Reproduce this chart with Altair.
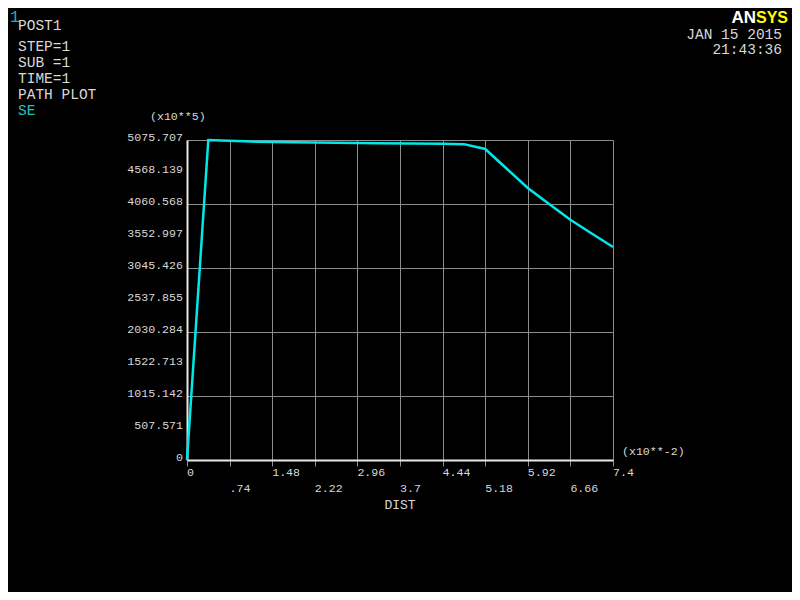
import altair as alt
import pandas as pd

# ---- data ----
dist = [0.0, 0.37, 1.11, 2.22, 3.33, 4.44, 4.81, 5.18, 5.55, 5.92, 6.29, 6.66, 7.03, 7.4]
se = [0.0, 5075.707, 5050.0, 5035.0, 5025.0, 5015.0, 5010.0, 4933.0, 4624.0, 4314.0, 4060.0, 3810.0, 3593.0, 3378.0]

x_tick_labels = ["0", ".74", "1.48", "2.22", "2.96", "3.7", "4.44", "5.18", "5.92", "6.66", "7.4"]
y_tick_labels = ["0", "507.571", "1015.142", "1522.713", "2030.284", "2537.855",
                 "3045.426", "3552.997", "4060.568", "4568.139", "5075.707"]

x_ticks = [i * 0.74 for i in range(len(x_tick_labels))]
y_ticks = [i * 507.5707 for i in range(len(y_tick_labels))]

W, H = 426, 320
MONO = "Liberation Mono"
LABEL = "#d8d8d8"

xs = alt.Scale(domain=[0, 7.4], nice=False, zero=False)
ys = alt.Scale(domain=[0, 5075.707], nice=False, zero=False)

line_df = pd.DataFrame({"dist": dist, "se": se})

base_x_axis = alt.Axis(values=x_ticks, labels=False, title=None, grid=True,
                       gridColor="#8c8c8c", gridWidth=1, ticks=True, tickSize=6,
                       tickColor="#8c8c8c", domain=True, domainColor="#e8e8e8",
                       domainWidth=2)
base_y_axis = alt.Axis(values=y_ticks, labels=False, title=None, grid=True,
                       gridColor="#8c8c8c", gridWidth=1, ticks=False,
                       domain=True, domainColor="#e8e8e8", domainWidth=2)

line = alt.Chart(line_df).mark_line(color="#00e8e8", strokeWidth=2.5).encode(
    x=alt.X("dist:Q", scale=xs, axis=base_x_axis),
    y=alt.Y("se:Q", scale=ys, axis=base_y_axis),
)

ylab_df = pd.DataFrame({"v": y_ticks, "t": y_tick_labels})
ylabels = alt.Chart(ylab_df).mark_text(
    align="right", baseline="alphabetic", dy=1, font=MONO, fontSize=11.6, color=LABEL
).encode(x=alt.value(-4), y=alt.Y("v:Q", scale=ys), text="t:N")

xlab_df = pd.DataFrame({"v": x_ticks, "t": x_tick_labels,
                        "row": [i % 2 for i in range(len(x_ticks))]})
xlab1 = alt.Chart(xlab_df).transform_filter("datum.row == 0").mark_text(
    align="left", baseline="middle", font=MONO, fontSize=11.6, color=LABEL
).encode(x=alt.X("v:Q", scale=xs), y=alt.value(333), text="t:N")
xlab2 = alt.Chart(xlab_df).transform_filter("datum.row == 1").mark_text(
    align="left", baseline="middle", font=MONO, fontSize=11.6, color=LABEL
).encode(x=alt.X("v:Q", scale=xs), y=alt.value(349), text="t:N")

dummy = pd.DataFrame({"a": [0]})


def label(text, px, py, color=LABEL, size=11.6, align="left", font=MONO, weight="normal",
          baseline="middle"):
    # px, py are page pixel positions; plot origin is at (187, 140)
    return alt.Chart(dummy).mark_text(
        text=text, align=align, baseline=baseline, font=font, fontSize=size,
        color=color, fontWeight=weight
    ).encode(x=alt.value(px - 187), y=alt.value(py - 140))


HDR = 14.5
texts = [
    label("1", 10, 17, color="#18b8b8", size=16),
    label("POST1", 18, 26, size=HDR),
    label("STEP=1", 18, 47, size=HDR),
    label("SUB =1", 18, 63, size=HDR),
    label("TIME=1", 18, 79, size=HDR),
    label("PATH PLOT", 18, 95, size=HDR),
    label("SE", 18, 111, color="#20c0c0", size=HDR),
    label("JAN 15 2015", 782, 35, size=HDR, align="right"),
    label("21:43:36", 782, 50, size=HDR, align="right"),
    label("AN", 756, 23, color="#ffffff", size=17, align="right",
          font="Liberation Sans", weight="bold", baseline="alphabetic"),
    label("SYS", 756, 23, color="#ffff00", size=16, align="left",
          font="Liberation Sans", weight="bold", baseline="alphabetic"),
    label("(x10**5)", 150, 117),
    label("(x10**-2)", 622, 452),
    label("DIST", 400, 505, size=13, align="center"),
]

chart = alt.layer(line, ylabels, xlab1, xlab2, *texts).properties(
    width=W, height=H,
    autosize=alt.AutoSizeParams(type="none"),
    padding={"left": 179, "top": 132, "right": 179, "bottom": 132},
    background="black",
).configure_view(stroke=None)

chart.save("out.html", embed_options={"renderer": "svg", "actions": False})
